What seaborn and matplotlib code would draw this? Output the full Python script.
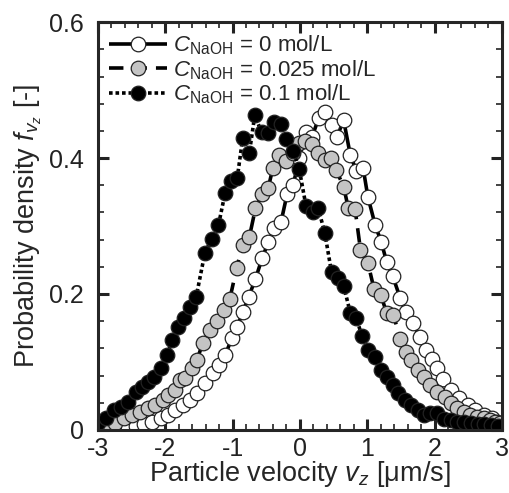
import numpy as np
import pandas as pd
import matplotlib
matplotlib.use("Agg")
import matplotlib.pyplot as plt
import seaborn as sns
from matplotlib.ticker import MultipleLocator

# --- Data ---
v_0 = [-2.56, -2.44, -2.32, -2.19, -2.07, -1.96, -1.85, -1.74, -1.63, -1.53, -1.41, -1.29, -1.20,
       -1.11, -1.01, -0.93, -0.85, -0.76, -0.66, -0.56, -0.47, -0.38, -0.28, -0.19, -0.10, -0.01,
       0.09, 0.18, 0.28, 0.38, 0.47, 0.55, 0.65, 0.75, 0.84, 0.94, 1.01, 1.12, 1.21, 1.29, 1.38,
       1.49, 1.57, 1.68, 1.78, 1.87, 1.96, 2.04, 2.12, 2.24, 2.37, 2.49, 2.60, 2.74, 2.85, 2.93, 3.00]
f_0 = [0.004, 0.006, 0.009, 0.012, 0.017, 0.022, 0.029, 0.037, 0.044, 0.054, 0.069, 0.084, 0.096,
       0.110, 0.135, 0.152, 0.173, 0.196, 0.222, 0.253, 0.276, 0.297, 0.306, 0.347, 0.360, 0.400,
       0.438, 0.431, 0.459, 0.468, 0.449, 0.431, 0.456, 0.404, 0.381, 0.385, 0.343, 0.301, 0.276,
       0.247, 0.226, 0.194, 0.173, 0.157, 0.137, 0.118, 0.104, 0.091, 0.075, 0.059, 0.047, 0.037,
       0.029, 0.022, 0.018, 0.012, 0.008]

v_025 = [-2.86, -2.74, -2.62, -2.49, -2.37, -2.26, -2.15, -2.04, -1.96, -1.85, -1.78, -1.71, -1.60,
         -1.53, -1.44, -1.34, -1.23, -1.13, -1.04, -0.94, -0.85, -0.75, -0.66, -0.56, -0.47, -0.40,
         -0.31, -0.21, -0.10, -0.01, 0.08, 0.18, 0.27, 0.37, 0.46, 0.54, 0.65, 0.72, 0.82, 0.90,
         1.01, 1.10, 1.20, 1.29, 1.39, 1.49, 1.57, 1.65, 1.75, 1.85, 1.94, 2.04, 2.15, 2.24, 2.34,
         2.44, 2.53, 2.63, 2.74, 2.82, 2.90, 2.97]
f_025 = [0.006, 0.010, 0.018, 0.022, 0.026, 0.032, 0.037, 0.044, 0.051, 0.059, 0.074, 0.076, 0.091,
         0.103, 0.128, 0.147, 0.160, 0.177, 0.193, 0.238, 0.272, 0.284, 0.326, 0.347, 0.356, 0.386,
         0.405, 0.395, 0.408, 0.422, 0.425, 0.420, 0.407, 0.397, 0.400, 0.382, 0.358, 0.326, 0.325,
         0.265, 0.246, 0.208, 0.199, 0.172, 0.169, 0.134, 0.115, 0.103, 0.088, 0.078, 0.066, 0.056,
         0.049, 0.040, 0.032, 0.027, 0.022, 0.019, 0.018, 0.015, 0.012, 0.010]

v_1 = [-3.00, -2.88, -2.76, -2.66, -2.56, -2.44, -2.34, -2.25, -2.16, -2.07, -1.97, -1.90, -1.81,
       -1.72, -1.63, -1.54, -1.41, -1.31, -1.21, -1.11, -1.02, -0.93, -0.85, -0.75, -0.67, -0.57,
       -0.47, -0.38, -0.28, -0.20, -0.10, -0.01, 0.09, 0.19, 0.27, 0.37, 0.47, 0.57, 0.65, 0.75,
       0.84, 0.92, 1.01, 1.12, 1.21, 1.29, 1.38, 1.46, 1.56, 1.65, 1.75, 1.85, 1.94, 2.04, 2.14,
       2.24, 2.34, 2.44, 2.54, 2.64, 2.74, 2.84, 2.94]
f_1 = [0.010, 0.017, 0.029, 0.034, 0.041, 0.056, 0.063, 0.071, 0.078, 0.091, 0.110, 0.132, 0.152,
       0.165, 0.181, 0.196, 0.261, 0.281, 0.301, 0.349, 0.367, 0.371, 0.429, 0.408, 0.463, 0.438,
       0.437, 0.453, 0.450, 0.428, 0.411, 0.384, 0.330, 0.320, 0.327, 0.290, 0.232, 0.224, 0.212,
       0.172, 0.165, 0.138, 0.118, 0.107, 0.088, 0.078, 0.066, 0.054, 0.044, 0.037, 0.029, 0.022,
       0.025, 0.025, 0.016, 0.014, 0.012, 0.011, 0.010, 0.009, 0.008, 0.007, 0.006]

labels = [r"$C$$_{\mathrm{NaOH}}$ = 0 mol/L",
          r"$C$$_{\mathrm{NaOH}}$ = 0.025 mol/L",
          r"$C$$_{\mathrm{NaOH}}$ = 0.1 mol/L"]

# --- Style ---
sns.set_style("ticks")
plt.rcParams.update({
    "font.family": ["Liberation Sans", "DejaVu Sans"],
    "mathtext.fontset": "custom",
    "mathtext.rm": "Liberation Sans",
    "mathtext.it": "Liberation Sans:italic",
    "axes.unicode_minus": False,
    "font.size": 18,
    "axes.linewidth": 2.2,
})

series = [
    (v_0, f_0, "white", (0, ()), labels[0]),
    (v_025, f_025, "#c4c4c4", (0, (4, 2.5)), labels[1]),
    (v_1, f_1, "black", (0, (1, 0.8)), labels[2]),
]

# --- Plotting ---
fig, ax = plt.subplots(figsize=(5.1, 4.93), dpi=100)
fig.subplots_adjust(left=0.192, right=0.984, bottom=0.128, top=0.955)

for v, f, fc, ls, lab in series:
    df = pd.DataFrame({"v": v, "f": f})
    sns.lineplot(data=df, x="v", y="f", ax=ax, sort=False, estimator=None,
                 color="black", linewidth=2.6, linestyle=ls,
                 marker="o", markersize=10.5, markerfacecolor=fc,
                 markeredgecolor="#222222", markeredgewidth=0.9, label=lab)

ax.set_xlim(-3, 3)
ax.set_ylim(0, 0.6)
ax.xaxis.set_major_locator(MultipleLocator(1))
ax.xaxis.set_minor_locator(MultipleLocator(0.2))
ax.yaxis.set_major_locator(MultipleLocator(0.2))
ax.yaxis.set_minor_locator(MultipleLocator(0.04))
ax.set_yticks([0, 0.2, 0.4, 0.6], ["0", "0.2", "0.4", "0.6"])
ax.tick_params(which="both", direction="in", top=True, right=True, labelsize=18, colors="#222222")
ax.tick_params(which="major", length=8, width=2.2)
ax.tick_params(axis="x", which="major", pad=5)
ax.tick_params(axis="y", which="major", pad=10)
ax.tick_params(which="minor", length=4, width=1.2)
for s in ax.spines.values():
    s.set_visible(True)

ax.set_xlabel(r"Particle velocity $v_z$ [μm/s]", fontsize=19.5, labelpad=-1)
ax.set_ylabel(r"Probability density $f_{v_z}$ [-]", fontsize=19.5, labelpad=4)

leg = ax.legend(loc="upper left", frameon=False, fontsize=16, handlelength=2.6,
                handletextpad=0.3, labelspacing=0.05, borderaxespad=0.2,
                borderpad=0.3, numpoints=1)

plt.savefig("out.png", dpi=100)
